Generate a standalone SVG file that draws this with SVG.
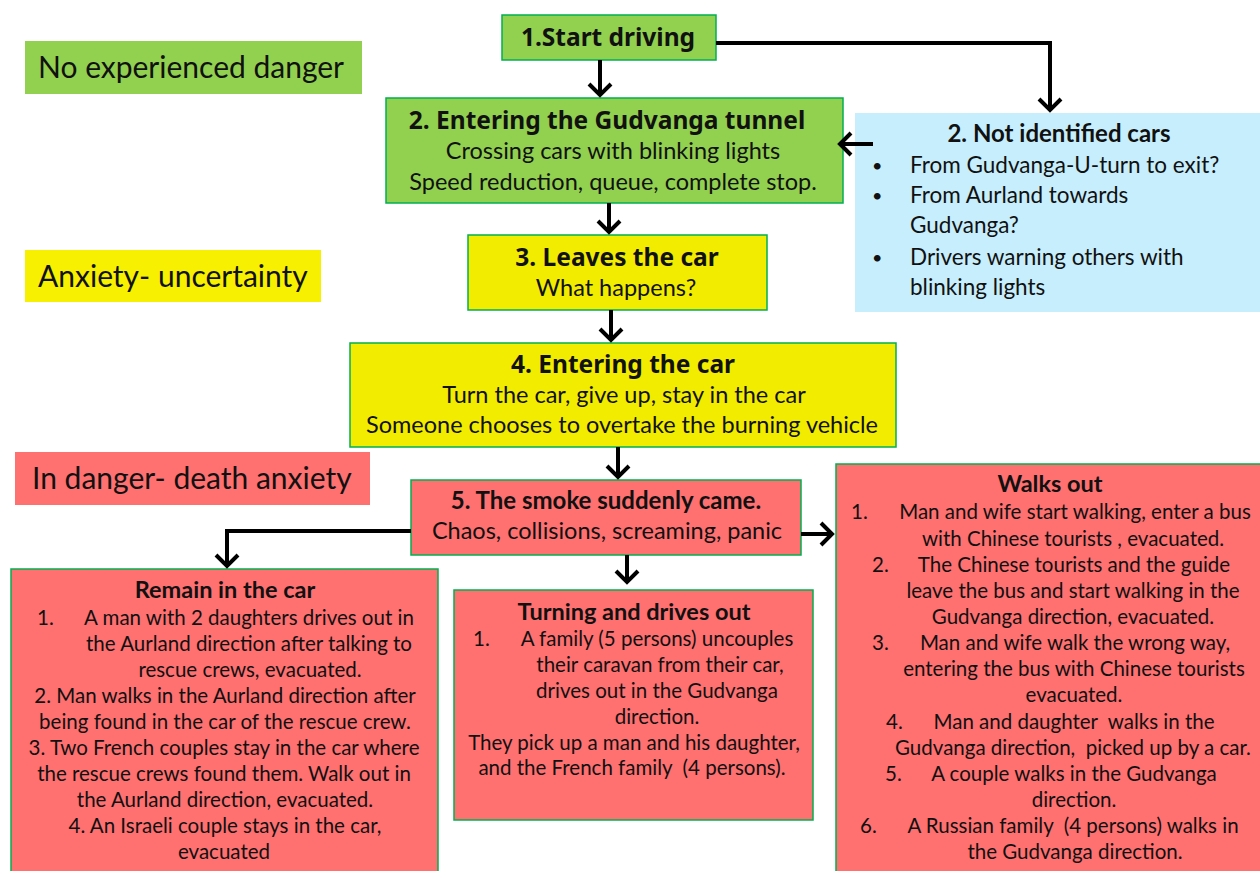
<svg xmlns="http://www.w3.org/2000/svg" width="1260" height="871" viewBox="0 0 1260 871">
<defs>
<style>
.g{fill:#92d050;stroke:#00b050;stroke-width:1.5}
.y{fill:#f2ec00;stroke:#00b050;stroke-width:1.5}
.r{fill:#ff7070;stroke:#00b050;stroke-width:1.5}
.lg{fill:#92d050}
.ly{fill:#f7f000}
.lr{fill:#ff7070}
.b{fill:#c7eefc}
text{font-family:Lato,"Liberation Sans",sans-serif;fill:#111;font-size:23.5px;white-space:pre}
.t{font-family:"Noto Sans","DejaVu Sans",sans-serif;font-weight:bold;font-size:24.5px;text-anchor:middle}
.m{text-anchor:middle}
.h{font-weight:bold;text-anchor:middle;font-size:24px}
.bl{font-size:22.5px}
.dot{font-size:18px}
.s{font-size:20.5px}
.st{font-size:23.5px;font-weight:bold;text-anchor:middle}
.lab{font-size:30px}
.c{fill:none;stroke:#000;stroke-width:4}
</style>
<marker id="ah" markerUnits="userSpaceOnUse" viewBox="-16 -14 20 28" markerWidth="20" markerHeight="28" refX="0" refY="0" orient="auto">
<path d="M-11,-11 L0,0 L-11,11" fill="none" stroke="#000" stroke-width="4"/>
</marker>
</defs>

<g id="label-no-danger"><rect class="lg" x="25" y="41" width="337" height="53"/><text class="lab" x="38" y="78">No experienced danger</text></g>
<g id="label-anxiety"><rect class="ly" x="25" y="250" width="296" height="52"/><text class="lab" x="38" y="287">Anxiety- uncertainty</text></g>
<g id="label-in-danger"><rect class="lr" x="15" y="452" width="355" height="53"/><text class="lab" x="32" y="489">In danger- death anxiety</text></g>

<g id="n1"><rect class="g" x="502" y="15" width="214" height="45"/><text class="t" x="608" y="46">1.Start driving</text></g>
<g id="n2"><rect class="g" x="386" y="98" width="457" height="105"/>
<text class="t" x="607" y="129">2. Entering the Gudvanga tunnel</text>
<text class="m" x="613" y="159">Crossing cars with blinking lights</text>
<text class="m" x="613" y="190">Speed reduction, queue, complete stop.</text></g>
<g id="n2b"><rect class="b" x="855" y="113" width="407" height="199"/>
<text class="h" x="1059" y="142">2. Not identified cars</text>
<text class="dot" x="872" y="172">•</text><text class="bl" x="910" y="173">From Gudvanga-U-turn to exit?</text>
<text class="dot" x="872" y="202">•</text><text class="bl" x="910" y="203">From Aurland towards</text>
<text class="bl" x="910" y="233">Gudvanga?</text>
<text class="dot" x="872" y="264">•</text><text class="bl" x="910" y="265">Drivers warning others with</text>
<text class="bl" x="910" y="295">blinking lights</text></g>
<g id="n3"><rect class="y" x="468" y="235" width="299" height="75"/>
<text class="t" x="617" y="266">3. Leaves the car</text>
<text class="m" x="616" y="296">What happens?</text></g>
<g id="n4"><rect class="y" x="350" y="343" width="546" height="104"/>
<text class="t" x="623" y="373">4. Entering the car</text>
<text class="m" x="624" y="403">Turn the car, give up, stay in the car</text>
<text class="m" x="622" y="433">Someone chooses to overtake the burning vehicle</text></g>
<g id="n5"><rect class="r" x="411" y="480" width="390" height="75"/>
<text class="h" x="606" y="509">5. The smoke suddenly came.</text>
<text class="m" x="607" y="539">Chaos, collisions, screaming, panic</text></g>

<g id="remain"><rect class="r" x="11" y="569" width="427" height="306"/>
<text class="st" x="225" y="598">Remain in the car</text>
<text class="s" x="37" y="625">1.</text><text class="m s" x="249" y="625">A man with 2 daughters drives out in</text>
<text class="m s" x="249" y="651">the Aurland direction after talking to</text>
<text class="m s" x="250" y="677">rescue crews, evacuated.</text>
<text class="m s" x="225" y="703">2. Man walks in the Aurland direction after</text>
<text class="m s" x="225" y="729">being found in the car of the rescue crew.</text>
<text class="m s" x="224" y="755">3. Two French couples stay in the car where</text>
<text class="m s" x="224" y="781">the rescue crews found them. Walk out in</text>
<text class="m s" x="225" y="807">the Aurland direction, evacuated.</text>
<text class="m s" x="225" y="833">4. An Israeli couple stays in the car,</text>
<text class="m s" x="224" y="859">evacuated</text></g>

<g id="turning"><rect class="r" x="454" y="590" width="359" height="230"/>
<text class="st" x="634" y="620">Turning and drives out</text>
<text class="s" x="473" y="646">1.</text><text class="m s" x="657" y="646">A family (5 persons) uncouples</text>
<text class="m s" x="660" y="672">their caravan from their car,</text>
<text class="m s" x="657" y="698">drives out in the Gudvanga</text>
<text class="m s" x="657" y="724">direction.</text>
<text class="m s" x="634" y="750">They pick up a man and his daughter,</text>
<text class="m s" x="632" y="775">and the French family  (4 persons).</text></g>

<g id="walks"><rect class="r" x="836" y="464" width="426" height="411"/>
<text class="st" x="1050" y="492">Walks out</text>
<text class="s" x="851" y="519">1.</text><text class="m s" x="1075" y="519">Man and wife start walking, enter a bus</text>
<text class="m s" x="1073" y="546">with Chinese tourists , evacuated.</text>
<text class="s" x="872" y="572">2.</text><text class="m s" x="1074" y="572">The Chinese tourists and the guide</text>
<text class="m s" x="1073" y="598">leave the bus and start walking in the</text>
<text class="m s" x="1073" y="624">Gudvanga direction, evacuated.</text>
<text class="s" x="872" y="650">3.</text><text class="m s" x="1075" y="650">Man and wife walk the wrong way,</text>
<text class="m s" x="1074" y="676">entering the bus with Chinese tourists</text>
<text class="m s" x="1074" y="702">evacuated.</text>
<text class="s" x="886" y="729">4.</text><text class="m s" x="1074" y="729">Man and daughter  walks in the</text>
<text class="m s" x="1073" y="755">Gudvanga direction,  picked up by a car.</text>
<text class="s" x="885" y="781">5.</text><text class="m s" x="1074" y="781">A couple walks in the Gudvanga</text>
<text class="m s" x="1074" y="807">direction.</text>
<text class="s" x="860" y="833">6.</text><text class="m s" x="1073" y="833">A Russian family  (4 persons) walks in</text>
<text class="m s" x="1075" y="859">the Gudvanga direction.</text></g>

<g id="connectors">
<path class="c" d="M600,60 V95" marker-end="url(#ah)"/>
<path class="c" d="M716,43 H1050 V110" marker-end="url(#ah)"/>
<path class="c" d="M873,144 H840" marker-end="url(#ah)"/>
<path class="c" d="M609,203 V232" marker-end="url(#ah)"/>
<path class="c" d="M611,310 V340" marker-end="url(#ah)"/>
<path class="c" d="M618,447 V477" marker-end="url(#ah)"/>
<path class="c" d="M411,531 H227 V566" marker-end="url(#ah)"/>
<path class="c" d="M627,555 V582" marker-end="url(#ah)"/>
<path class="c" d="M801,534 H832" marker-end="url(#ah)"/>
</g>
</svg>
